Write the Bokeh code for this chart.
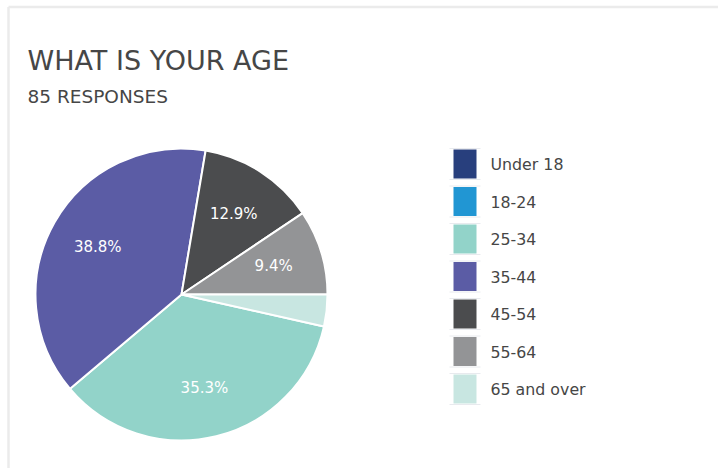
import math
from bokeh.plotting import figure
from bokeh.models import Range1d, Label
from bokeh.embed import file_html
from bokeh.resources import INLINE
from bokeh.core.properties import value

# ---- data ----
categories = ["Under 18", "18-24", "25-34", "35-44", "45-54", "55-64", "65 and over"]
counts = [0, 0, 30, 33, 11, 8, 3]
colors = ["#283f7d", "#2196d3", "#92d3c9", "#5b5ca5", "#4b4c4e", "#939496", "#c8e6e1"]
title_text = "WHAT IS YOUR AGE"
subtitle_text = "85 RESPONSES"

# ---- layout / style ----
W, H = 718, 468
FONT = "DejaVu Sans"
TEXT_COLOR = "#464646"
CX, CY, R = 181, 294, 146          # pie centre and radius (pixels from top-left)
START_DEG = -12.7                   # first slice start, slices go clockwise
LABEL_FRAC = 0.66


def Y(py):
    return H - py


p = figure(width=W, height=H, x_range=Range1d(0, W), y_range=Range1d(0, H),
           output_backend="svg", toolbar_location=None,
           x_axis_type=None, y_axis_type=None,
           min_border=0, min_border_left=0, min_border_right=0,
           min_border_top=0, min_border_bottom=0)
p.grid.visible = False
p.outline_line_color = None
p.background_fill_color = "white"
p.border_fill_color = "white"

# card frame (top and left edges visible)
p.segment(x0=[8, 8], y0=[Y(6.5), Y(6.5)], x1=[W + 5, 8], y1=[Y(6.5), Y(H + 5)],
          line_color="#ebebeb", line_width=2.5)

# titles
p.add_layout(Label(x=27, y=Y(60), text=title_text, text_font=FONT,
                   text_font_size="27px", text_color=TEXT_COLOR,
                   text_baseline="alphabetic"))
p.add_layout(Label(x=27, y=Y(95.5), text=subtitle_text, text_font=FONT,
                   text_font_size="18.5px", text_color=TEXT_COLOR,
                   text_baseline="alphabetic"))

# pie
total = sum(counts)
a = math.radians(START_DEG)
ws, we, wc = [], [], []
lx, ly, lt = [], [], []
for c, col in zip(counts, colors):
    th = 2 * math.pi * c / total
    if c > 0:
        ws.append(a - th)
        we.append(a)
        wc.append(col)
        pct = 100.0 * c / total
        if pct > 5:
            mid = a - th / 2
            lx.append(CX + LABEL_FRAC * R * math.cos(mid))
            ly.append(Y(CY) + LABEL_FRAC * R * math.sin(mid))
            lt.append(f"{pct:.1f}%")
    a -= th

p.wedge(x=[CX] * len(ws), y=[Y(CY)] * len(ws), radius=R,
        start_angle=ws, end_angle=we, fill_color=wc,
        line_color="white", line_width=2)
p.text(x=lx, y=ly, text=lt, text_color="white", text_font=value(FONT),
       text_font_size="15px", text_align="center", text_baseline="middle")

# legend
sx, sw, sh = 464.5, 23, 29
ys = [163.5 + 37.5 * i for i in range(len(categories))]
p.rect(x=[sx] * len(ys), y=[Y(v) for v in ys], width=sw, height=sh,
       fill_color=colors, line_color=None)
seg_y = []
for v in ys:
    seg_y += [Y(v - sh / 2 - 1), Y(v + sh / 2 + 1)]
p.segment(x0=[449] * len(seg_y), y0=seg_y, x1=[480] * len(seg_y), y1=seg_y,
          line_color="#e8eaee", line_width=1)
p.text(x=[490] * len(ys), y=[Y(v) for v in ys], text=categories,
       text_color=TEXT_COLOR, text_font=value(FONT), text_font_size="15.8px",
       text_align="left", text_baseline="middle")

open("out.html", "w").write(file_html(p, INLINE))
